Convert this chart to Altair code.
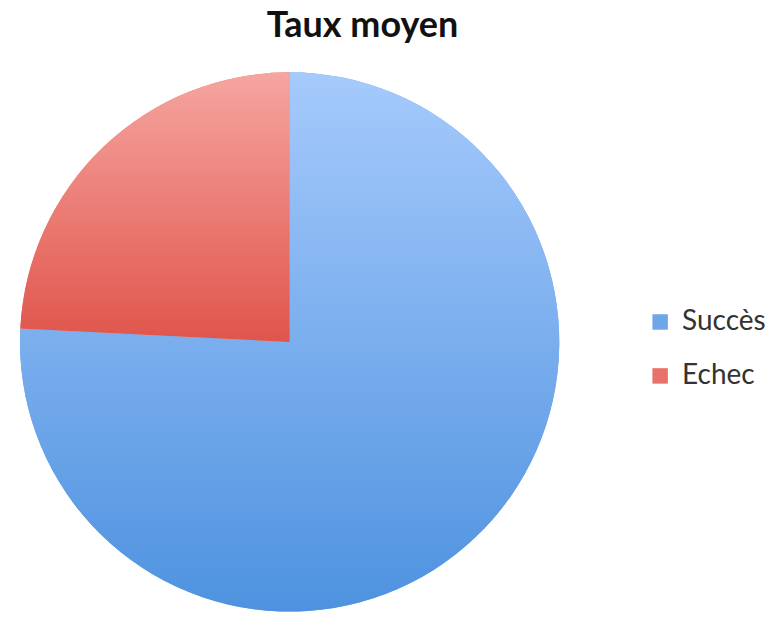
import altair as alt
import pandas as pd

categories = ["Succès", "Echec"]
values = [75.8, 24.2]
order = [1, 2]
solid_colors = ["#6fa6e8", "#e8716a"]

df = pd.DataFrame({"cat": categories, "val": values, "ord": order})

blue_grad = alt.Gradient(
    gradient="linear", x1=0, y1=0, x2=0, y2=1,
    stops=[alt.GradientStop(color="#a6cafc", offset=0),
           alt.GradientStop(color="#4e92df", offset=1)],
)
red_grad = alt.Gradient(
    gradient="linear", x1=0, y1=0, x2=0, y2=1,
    stops=[alt.GradientStop(color="#f6a5a1", offset=0),
           alt.GradientStop(color="#e0554b", offset=1)],
)

R = 270

base = alt.Chart(df).encode(
    theta=alt.Theta("val:Q", stack=True),
    order=alt.Order("ord:Q"),
)

legend_layer = base.mark_arc(radius=R, strokeWidth=0).encode(
    color=alt.Color(
        "cat:N",
        scale=alt.Scale(domain=categories, range=solid_colors),
        sort=categories,
        legend=alt.Legend(
            title=None, orient="none", legendX=639, legendY=236, padding=0,
            symbolType="square", symbolSize=240, symbolStrokeWidth=0,
            labelFont="Lato", labelFontSize=28, labelColor="#333333",
            rowPadding=26, labelOffset=8,
        ),
    )
)

succ_layer = base.mark_arc(radius=R, color=blue_grad, strokeWidth=0).encode(
    opacity=alt.condition(alt.datum.cat == "Succès", alt.value(1), alt.value(0))
)
ech_layer = base.mark_arc(radius=R, color=red_grad, strokeWidth=0).encode(
    opacity=alt.condition(alt.datum.cat == "Echec", alt.value(1), alt.value(0))
)

chart = alt.layer(legend_layer, succ_layer, ech_layer).properties(
    width=564, height=540,
    padding={"left": 0, "top": 0, "right": 0, "bottom": 0},
    title=alt.TitleParams(
        "Taux moyen", font="Lato", fontSize=36, fontWeight="bold",
        color="#111111", anchor="middle", dx=73, offset=27,
    ),
).configure_view(stroke=None)

chart.save("out.html", embed_options={"renderer": "svg", "actions": False})
